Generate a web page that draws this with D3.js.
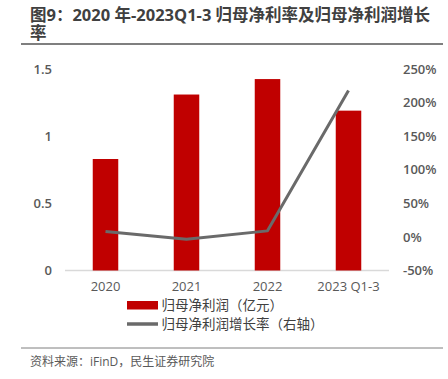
<!DOCTYPE html>
<html><head><meta charset="utf-8">
<script src="https://cdn.jsdelivr.net/npm/d3@7"></script>
<style>body{margin:0;background:#fff}svg{display:block}</style>
</head><body>
<svg id="c" width="448" height="379"></svg>
<script>
const categories = ["2020", "2021", "2022", "2023 Q1-3"];
const profit = [0.83, 1.31, 1.425, 1.19];
const growth = [8, -3.5, 9, 218];
const leftTicks = [0, 0.5, 1, 1.5];
const rightTicks = [-50, 0, 50, 100, 150, 200, 250];
const titleLine1 = "图9：2020 年-2023Q1-3 归母净利率及归母净利润增长";
const titleLine2 = "率";
const legendLabels = ["归母净利润（亿元）", "归母净利润增长率（右轴）"];
const sourceText = "资料来源：iFinD，民生证券研究院";

const font = "'Open Sans','Noto Sans CJK SC',sans-serif";
const svg = d3.select("#c").style("font-family", font);

// Title (single text element, two lines)
const title = svg.append("text").attr("font-size", 16.5).attr("font-weight", "bold").attr("fill", "#404040");
title.append("tspan").attr("x", 30).attr("y", 20.5).text(titleLine1);
title.append("tspan").attr("x", 30).attr("y", 38.5).text(titleLine2);
svg.append("line").attr("x1", 21).attr("x2", 443).attr("y1", 44).attr("y2", 44)
  .attr("stroke", "#7f7f7f").attr("stroke-width", 2);

const x = d3.scaleBand().domain(categories).range([65, 389]).paddingInner(0.685).paddingOuter(0.3425);
const yL = d3.scaleLinear().domain([0, 1.5]).range([270.5, 69]);
const yR = d3.scaleLinear().domain([-50, 250]).range([270.5, 69]);

// baseline
svg.append("line").attr("x1", 65).attr("x2", 389).attr("y1", yL(0)).attr("y2", yL(0))
  .attr("stroke", "#d9d9d9").attr("stroke-width", 1.5);

// bars
svg.selectAll("rect.bar").data(profit).enter().append("rect").attr("class", "bar")
  .attr("x", (d, i) => x(categories[i])).attr("width", x.bandwidth())
  .attr("y", d => yL(d)).attr("height", d => yL(0) - yL(d))
  .attr("fill", "#c00000");

// line
const line = d3.line().x((d, i) => x(categories[i]) + x.bandwidth() / 2).y(d => yR(d));
svg.append("path").datum(growth).attr("d", line).attr("fill", "none")
  .attr("stroke", "#6a6a6a").attr("stroke-width", 3).attr("stroke-linejoin", "round");

// left axis
const gL = svg.append("g").attr("transform", "translate(52,0)")
  .call(d3.axisLeft(yL).tickValues(leftTicks).tickSize(0).tickPadding(0).tickFormat(d3.format("~g")));
gL.select(".domain").remove();
gL.selectAll("text").attr("font-size", 13).attr("font-weight", 600).attr("fill", "#595959")
  .attr("font-family", font);

// right axis
const gR = svg.append("g").attr("transform", "translate(403,0)")
  .call(d3.axisRight(yR).tickValues(rightTicks).tickSize(0).tickPadding(0).tickFormat(d => d + "%"));
gR.select(".domain").remove();
gR.selectAll("text").attr("font-size", 13).attr("font-weight", 600).attr("fill", "#595959")
  .attr("font-family", font);

// x axis labels
const gX = svg.append("g").attr("transform", "translate(0,282)")
  .call(d3.axisBottom(x).tickSize(0).tickPadding(0));
gX.select(".domain").remove();
gX.selectAll("text").attr("font-size", 13).attr("fill", "#595959").attr("font-family", font);

// legend
svg.append("rect").attr("x", 127).attr("y", 301).attr("width", 31).attr("height", 8.5).attr("fill", "#c00000");
svg.append("text").attr("x", 161.5).attr("y", 310).attr("font-size", 13.5).attr("fill", "#404040").text(legendLabels[0]);
svg.append("line").attr("x1", 127).attr("x2", 158).attr("y1", 324).attr("y2", 324)
  .attr("stroke", "#6a6a6a").attr("stroke-width", 3.5);
svg.append("text").attr("x", 161.5).attr("y", 329).attr("font-size", 13.5).attr("fill", "#404040").text(legendLabels[1]);

// source
svg.append("line").attr("x1", 21).attr("x2", 443).attr("y1", 348).attr("y2", 348)
  .attr("stroke", "#7f7f7f").attr("stroke-width", 1);
svg.append("text").attr("x", 30).attr("y", 366).attr("font-size", 12).attr("fill", "#595959").text(sourceText);
</script>
</body></html>
